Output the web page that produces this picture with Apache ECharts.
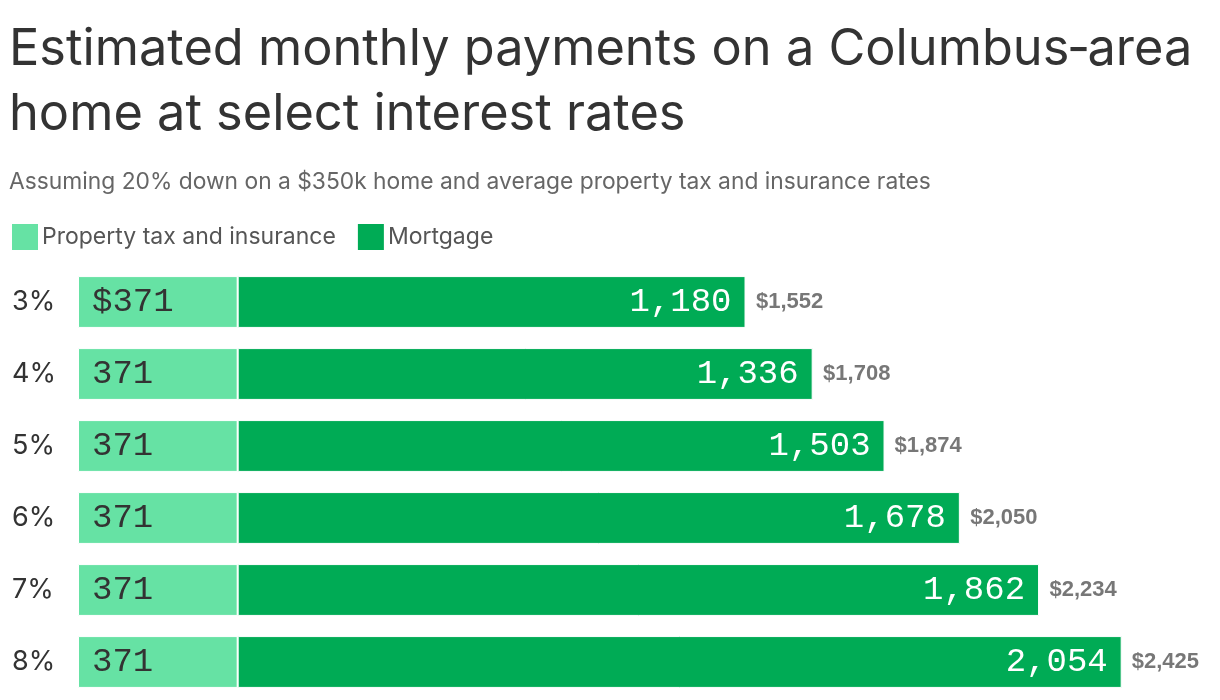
<!DOCTYPE html>
<html>
<head>
    <meta charset="utf-8">
    <title>Columbus-area monthly payments</title>
    <script src="https://cdn.jsdelivr.net/npm/echarts@6/dist/echarts.min.js"></script>
    <style>
        html, body { margin: 0; padding: 0; background: #fff; }
        #chart { width: 1220px; height: 700px; }
    </style>
</head>
<body>
<div id="chart"></div>
<script type="text/javascript">

    // data
    var rates = ['3%', '4%', '5%', '6%', '7%', '8%'];
    var taxIns = [371, 371, 371, 371, 371, 371];
    var mortgage = [1180, 1336, 1503, 1678, 1862, 2054];
    var totals = [1552, 1708, 1874, 2050, 2234, 2425];

    var lightGreen = '#66e2a4';
    var darkGreen = '#00ab55';
    var monoFont = '"Liberation Mono", "DejaVu Sans Mono", monospace';
    var sansFont = 'Inter, "Noto Sans", sans-serif';

    function fmt(n) {
        return n.toLocaleString('en-US');
    }

    var myChart = echarts.init(document.getElementById('chart'));

    myChart.setOption({
        animation: false,
        backgroundColor: '#fff',
        title: [{
            text: 'Estimated monthly payments on a Columbus\u2011area\nhome at select interest rates',
            left: 4,
            top: 12,
            textStyle: {
                fontFamily: sansFont,
                fontSize: 50.5,
                fontWeight: 'normal',
                color: '#333',
                lineHeight: 65
            }
        }, {
            text: 'Assuming 20% down on a $350k home and average property tax and insurance rates',
            left: 4,
            top: 166,
            textStyle: {
                fontFamily: sansFont,
                fontSize: 22.8,
                fontWeight: 'normal',
                color: '#666'
            }
        }],
        legend: {
            left: 5,
            top: 217,
            icon: 'rect',
            itemWidth: 28,
            itemHeight: 28,
            itemGap: 20,
            data: ['Property tax and insurance', 'Mortgage'],
            textStyle: {
                fontFamily: sansFont,
                fontSize: 23,
                color: '#555',
                padding: [0, 0, 0, -2]
            }
        },
        grid: {
            left: 78,
            right: 23,
            top: 266,
            bottom: 2
        },
        xAxis: {
            type: 'value',
            min: 0,
            max: 2600,
            show: false
        },
        yAxis: {
            type: 'category',
            data: rates,
            inverse: true,
            axisLine: {show: false},
            axisTick: {show: false},
            axisLabel: {
                align: 'left',
                margin: 66,
                fontFamily: sansFont,
                fontSize: 27,
                color: '#333'
            }
        },
        series: [{
            name: 'Property tax and insurance',
            type: 'bar',
            stack: 'pay',
            barCategoryGap: '28%',
            data: taxIns,
            itemStyle: {
                color: lightGreen,
                borderColor: '#fff',
                borderWidth: 1
            },
            label: {
                show: true,
                position: 'insideLeft',
                distance: 14,
                fontFamily: monoFont,
                fontSize: 34,
                color: '#333',
                formatter: function (p) {
                    return (p.dataIndex === 0 ? '$' : '') + fmt(p.value);
                }
            }
        }, {
            name: 'Mortgage',
            type: 'bar',
            stack: 'pay',
            data: mortgage,
            itemStyle: {
                color: darkGreen,
                borderColor: '#fff',
                borderWidth: 1
            },
            label: {
                show: true,
                position: 'insideRight',
                distance: 14,
                fontFamily: monoFont,
                fontSize: 34,
                color: '#fff',
                formatter: function (p) {
                    return fmt(p.value);
                }
            }
        }, {
            // total label at the end of each stack
            name: 'Total',
            type: 'scatter',
            symbolSize: 0,
            silent: true,
            data: totals.map(function (t, i) { return [t, rates[i]]; }),
            label: {
                show: true,
                position: 'right',
                distance: 10,
                fontFamily: '"Liberation Sans", Arial, sans-serif',
                fontWeight: 'bold',
                fontSize: 22,
                color: '#555',
                formatter: function (p) {
                    return '$' + fmt(p.value[0]);
                }
            }
        }]
    });

</script>
</body>
</html>
